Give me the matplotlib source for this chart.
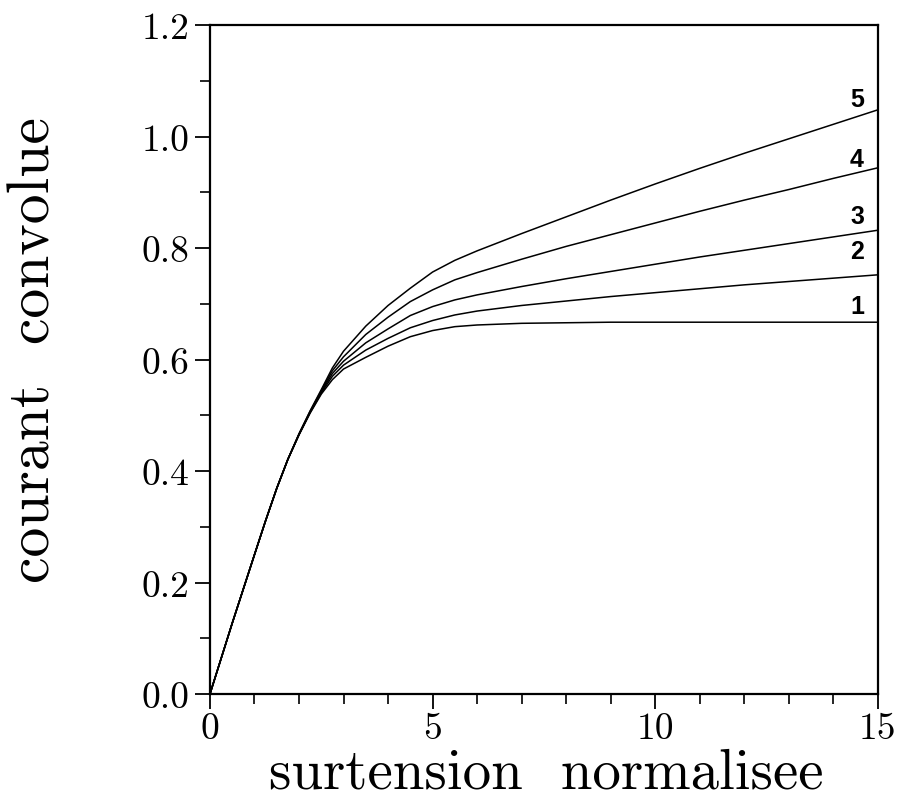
import matplotlib
matplotlib.use("Agg")
import matplotlib.pyplot as plt
from matplotlib.ticker import MultipleLocator

# surtension normalisee
x_surt = [0, 0.5, 1.0, 1.25, 1.5, 1.75, 2.0, 2.25, 2.5, 2.75, 3.0, 3.5, 4.0, 4.5, 5.0, 5.5, 6, 7, 8, 9, 10, 11, 12, 13, 14, 15]

# courant convolue pour chaque courbe 1..5
courbe_1 = [0, 0.127, 0.250, 0.311, 0.369, 0.421, 0.465, 0.504, 0.538, 0.564, 0.583, 0.604, 0.624, 0.641, 0.652,
            0.659, 0.662, 0.665, 0.666, 0.667, 0.667, 0.667, 0.667, 0.667, 0.667, 0.667]
courbe_2 = [0, 0.127, 0.250, 0.311, 0.369, 0.421, 0.465, 0.505, 0.540, 0.570, 0.590, 0.617, 0.638, 0.657, 0.670,
            0.680, 0.687, 0.697, 0.705, 0.713, 0.720, 0.727, 0.734, 0.740, 0.746, 0.752]
courbe_3 = [0, 0.127, 0.250, 0.311, 0.369, 0.421, 0.466, 0.506, 0.542, 0.575, 0.597, 0.630, 0.655, 0.679, 0.695,
            0.707, 0.716, 0.731, 0.745, 0.758, 0.771, 0.784, 0.796, 0.808, 0.820, 0.832]
courbe_4 = [0, 0.127, 0.250, 0.311, 0.369, 0.421, 0.466, 0.507, 0.544, 0.580, 0.605, 0.645, 0.676, 0.704, 0.725,
            0.743, 0.756, 0.780, 0.803, 0.824, 0.845, 0.866, 0.886, 0.905, 0.925, 0.944]
courbe_5 = [0, 0.127, 0.250, 0.311, 0.369, 0.421, 0.467, 0.508, 0.546, 0.585, 0.615, 0.660, 0.697, 0.728, 0.757,
            0.778, 0.795, 0.826, 0.856, 0.886, 0.915, 0.943, 0.970, 0.996, 1.022, 1.048]

courbes = [courbe_1, courbe_2, courbe_3, courbe_4, courbe_5]
etiquettes = ["1", "2", "3", "4", "5"]
# position des numeros a droite des courbes
etiq_x = [14.53, 14.53, 14.53, 14.53, 14.53]
etiq_y = [0.696, 0.795, 0.857, 0.960, 1.067]

yticks = [0.0, 0.2, 0.4, 0.6, 0.8, 1.0, 1.2]
ytick_labels = ["0.0", "0.2", "0.4", "0.6", "0.8", "1.0", "1.2"]
xticks = [0, 5, 10, 15]
xtick_labels = ["0", "5", "10", "15"]

plt.rcParams['font.family'] = ['cmr10', 'DejaVu Serif']

fig = plt.figure(figsize=(9.05, 8.03), dpi=100)
ax = fig.add_axes([0.232, 0.1345, 0.738, 0.833])

for y in courbes:
    ax.plot(x_surt, y, color='black', lw=1.1)

for tx, ty, lab in zip(etiq_x, etiq_y, etiquettes):
    ax.text(tx, ty, lab, family='Liberation Sans', fontweight='bold',
            fontsize=18, ha='center', va='center')

ax.set_xlim(0, 15)
ax.set_ylim(0, 1.2)
ax.set_xticks(xticks)
ax.set_xticklabels(xtick_labels)
ax.set_yticks(yticks)
ax.set_yticklabels(ytick_labels)
ax.xaxis.set_minor_locator(MultipleLocator(1))
ax.yaxis.set_minor_locator(MultipleLocator(0.1))

ax.tick_params(which='major', direction='out', length=11, width=1.3, labelsize=27, pad=2)
ax.tick_params(axis='y', which='major', pad=4)
ax.tick_params(which='minor', direction='out', length=7, width=1.2)
for s in ax.spines.values():
    s.set_linewidth(1.6)

# libelles des axes
ax.set_xlabel('surtension  normalisee', fontsize=41)
ax.xaxis.set_label_coords(0.504, -0.08)
ax.set_ylabel('courant  convolue', fontsize=43)
ax.yaxis.set_label_coords(-0.222, 0.516)

fig.savefig('out.png', dpi=100)
